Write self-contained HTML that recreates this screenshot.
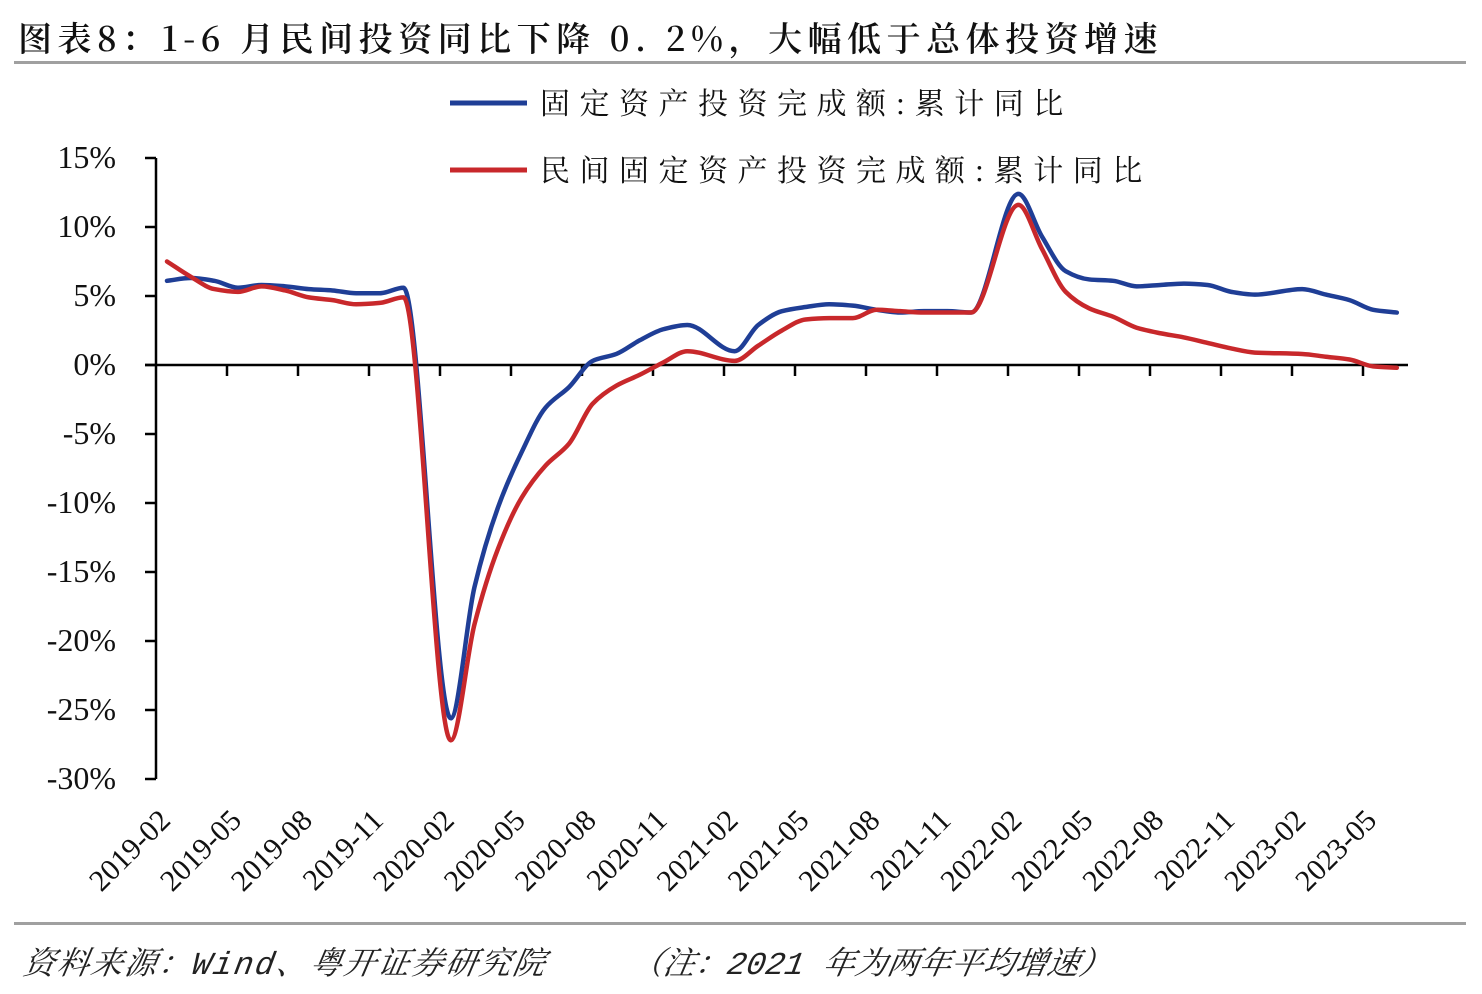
<!DOCTYPE html>
<html><head><meta charset="utf-8"><style>
body{margin:0;background:#fff;width:1482px;height:994px;overflow:hidden;position:relative}
.t{position:absolute;white-space:nowrap}
</style></head><body>
<div class="t" style="left:18px;top:12px;font:34px 'Noto Serif CJK SC','Liberation Serif',serif;letter-spacing:5.5px;color:#111;font-weight:600">图表8：1-6 月民间投资同比下降 0. 2%，大幅低于总体投资增速</div>
<div style="position:absolute;left:14px;top:61px;width:1452px;height:3px;background:#a0a0a0"></div>
<div style="position:absolute;left:14px;top:922px;width:1452px;height:3px;background:#a0a0a0"></div>
<div class="t" style="left:20px;top:938px;font:italic 32px 'Liberation Mono','Noto Serif CJK SC',serif;color:#222;transform:skewX(-10deg);transform-origin:left bottom;letter-spacing:1.8px">资料来源：Wind、粤开证券研究院</div>
<div class="t" style="left:628px;top:938px;font:italic 32px 'Liberation Mono','Noto Serif CJK SC',serif;color:#222;transform:skewX(-10deg);transform-origin:left bottom;letter-spacing:0px">（注：2021 年为两年平均增速）</div>
<svg id="s" width="1482" height="994" style="position:absolute;left:0;top:0" xmlns="http://www.w3.org/2000/svg">
<line x1="450" y1="103" x2="527" y2="103" stroke="#1f3e96" stroke-width="5"/>
<text x="540" y="114" font-family="Noto Serif CJK SC,serif" font-size="30" letter-spacing="9.5" fill="#111">固定资产投资完成额:累计同比</text>
<line x1="450" y1="170" x2="527" y2="170" stroke="#c8282b" stroke-width="5"/>
<text x="540" y="181" font-family="Noto Serif CJK SC,serif" font-size="30" letter-spacing="9.5" fill="#111">民间固定资产投资完成额:累计同比</text>
<g id="ax" stroke="#000" stroke-width="2.5" fill="none"></g>
<g id="lab" font-family="Liberation Serif,serif" font-size="32" fill="#111"></g>
</svg>
<script>
var ns="http://www.w3.org/2000/svg",s=document.getElementById('s'),ax=document.getElementById('ax'),lab=document.getElementById('lab');
function el(t,a,p){var e=document.createElementNS(ns,t);for(var k in a)e.setAttribute(k,a[k]);(p||s).appendChild(e);return e}
function Y(v){return 365-v*13.8}
el('line',{x1:156,y1:158,x2:156,y2:779},ax);
el('line',{x1:145,y1:365,x2:1408,y2:365},ax);
for(var i=0;i<10;i++){var v=15-5*i,y=Y(v);el('line',{x1:145,y1:y,x2:156,y2:y},ax);
var t=el('text',{x:116,y:y+10,'text-anchor':'end'},lab);t.textContent=v+'%';}
for(var k=1;k<=17;k++){var x=156+71*k;el('line',{x1:x,y1:365,x2:x,y2:376},ax);}
var labs=['2019-02','2019-05','2019-08','2019-11','2020-02','2020-05','2020-08','2020-11','2021-02','2021-05','2021-08','2021-11','2022-02','2022-05','2022-08','2022-11','2023-02','2023-05'];
for(var k=0;k<labs.length;k++){var x=172+70.95*k,y=822;var t=el('text',{x:x,y:y,'text-anchor':'end',transform:'rotate(-45 '+x+' '+y+')','font-size':30},lab);t.textContent=labs[k];}
var B=[6.1,6.3,6.1,5.6,5.8,5.7,5.5,5.4,5.2,5.2,5.6,null,-25.6,-16.1,-10.3,-6.3,-3.1,-1.6,0.3,0.8,1.8,2.6,2.9,null,1.0,2.9,3.9,4.2,4.4,4.3,4.0,3.8,3.9,3.9,3.8,null,12.4,9.3,6.8,6.2,6.1,5.7,5.8,5.9,5.8,5.3,5.1,null,5.5,5.1,4.7,4.0,3.8];
var R=[7.5,6.4,5.5,5.3,5.7,5.4,4.9,4.7,4.4,4.5,4.9,null,-27.2,-18.8,-13.3,-9.6,-7.3,-5.7,-2.8,-1.5,-0.7,0.2,1.0,null,0.3,1.4,2.5,3.3,3.4,3.4,4.0,3.9,3.8,3.8,3.8,null,11.6,8.4,5.3,4.1,3.5,2.7,2.3,2.0,1.6,1.2,0.9,null,0.8,0.6,0.4,-0.1,-0.2];
function path(D,c){var P=[];for(var m=0;m<D.length;m++)if(D[m]!==null)P.push([167+23.65*m,Y(D[m])]);
var n=P.length,dl=[],mm=[];
for(var i=0;i<n-1;i++)dl.push((P[i+1][1]-P[i][1])/(P[i+1][0]-P[i][0]));
mm[0]=dl[0];mm[n-1]=dl[n-2];
for(var i=1;i<n-1;i++){if(dl[i-1]*dl[i]<=0)mm[i]=0;else mm[i]=2/(1/dl[i-1]+1/dl[i]);}
var d='M'+P[0][0]+','+P[0][1];
for(var i=0;i<n-1;i++){var h=(P[i+1][0]-P[i][0])/3;
d+=' C'+(P[i][0]+h)+','+(P[i][1]+mm[i]*h)+' '+(P[i+1][0]-h)+','+(P[i+1][1]-mm[i+1]*h)+' '+P[i+1][0]+','+P[i+1][1];}
el('path',{d:d,stroke:c,'stroke-width':4.5,fill:'none','stroke-linejoin':'round','stroke-linecap':'round'});}
path(B,'#1f3e96');path(R,'#c8282b');
</script>
</body></html>
